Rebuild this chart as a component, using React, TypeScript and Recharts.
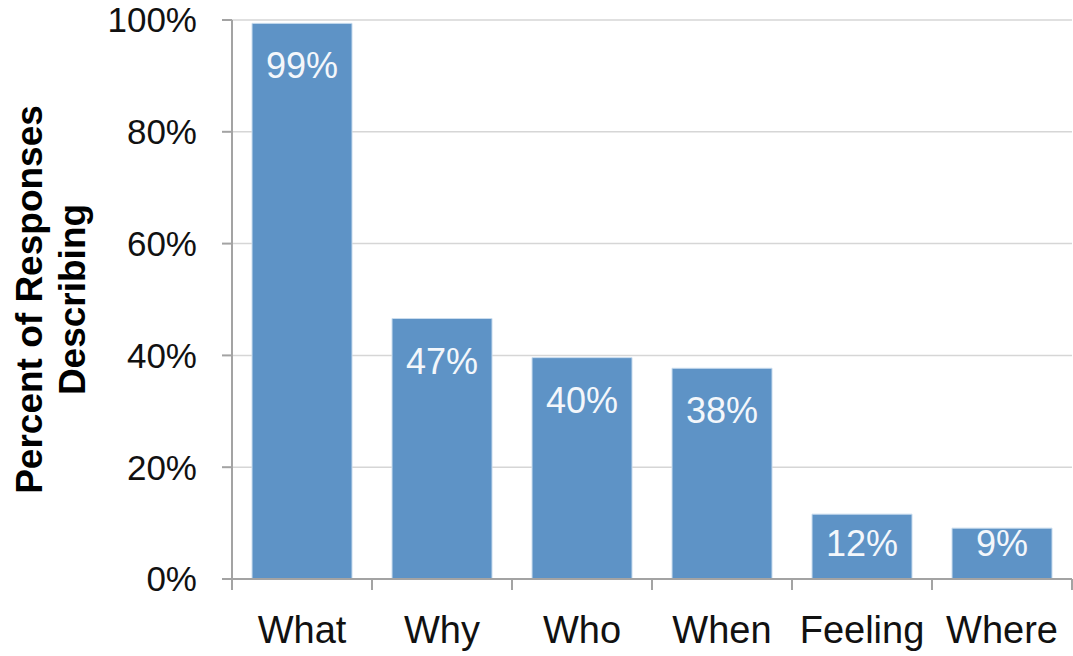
import { BarChart, Bar, XAxis, YAxis, CartesianGrid, LabelList } from "recharts";

const categories = ["What", "Why", "Who", "When", "Feeling", "Where"];
const percents = [99.4, 46.6, 39.6, 37.7, 11.6, 9.1];
const yTicks = [0, 20, 40, 60, 80, 100];

const data = categories.map((name, i) => ({ name, value: percents[i] }));

const FONT = "'Liberation Sans', Arial, Helvetica, sans-serif";
const AXIS = "#a3a3a3";

function XTick(props: any) {
  const { x, y, payload, index, visibleTicksCount } = props;
  const half = payload && payload.offset ? payload.offset : 70;
  const last = index === visibleTicksCount - 1;
  return (
    <g>
      <line x1={x - half} x2={x - half} y1={y} y2={y + 11} stroke={AXIS} strokeWidth={2} />
      {last && <line x1={x + half} x2={x + half} y1={y} y2={y + 11} stroke={AXIS} strokeWidth={2} />}
      <text x={x} y={y + 64} textAnchor="middle" fontSize={38} fill="#111" fontFamily={FONT}>
        {payload.value}
      </text>
    </g>
  );
}

function YLabel(props: any) {
  const vb = props.viewBox || { x: 0, y: 20, height: 559 };
  const cy = vb.y + vb.height / 2;
  return (
    <g fontFamily={FONT} fontWeight="bold" fontSize={37} fill="#000">
      <text transform={`translate(42, ${cy}) rotate(-90)`} textAnchor="middle">
        Percent of Responses
      </text>
      <text transform={`translate(85, ${cy}) rotate(-90)`} textAnchor="middle">
        Describing
      </text>
    </g>
  );
}

// value label sits 29px under the bar top, but never lower than 49px above the base
function BarValue(props: any) {
  const { x, y, width, height, value } = props;
  const top = Math.min(y + 29, y + height - 49);
  return (
    <text
      x={x + width / 2}
      y={top + 26}
      textAnchor="middle"
      fontSize={36}
      fill="#f4f7fb"
      fontFamily={FONT}
    >
      {`${Math.round(Number(value))}%`}
    </text>
  );
}

export default function App() {
  return (
    <div style={{ position: "absolute", left: 0, top: 0, background: "#fff" }}>
      <BarChart
        width={1073}
        height={656}
        data={data}
        margin={{ top: 20, right: 1, left: 0, bottom: 0 }}
        barCategoryGap="14.3%"
      >
        <CartesianGrid vertical={false} stroke="#d6d6d6" strokeWidth={1.5} />
        <XAxis
          dataKey="name"
          height={77}
          axisLine={{ stroke: AXIS, strokeWidth: 2 }}
          tickLine={false}
          tickSize={0}
          tickMargin={0}
          interval={0}
          tick={<XTick />}
        />
        <YAxis
          width={232}
          domain={[0, 100]}
          ticks={yTicks}
          tickFormatter={(v: number) => `${v}%`}
          axisLine={{ stroke: AXIS, strokeWidth: 2 }}
          tickLine={{ stroke: AXIS, strokeWidth: 2 }}
          tickSize={10}
          tickMargin={25}
          tick={{ fontSize: 35, fill: "#111", fontFamily: FONT }}
          label={<YLabel />}
        />
        <Bar dataKey="value" fill="#5e93c6" stroke="#c9dcee" strokeWidth={1} isAnimationActive={false}>
          <LabelList dataKey="value" content={<BarValue />} />
        </Bar>
      </BarChart>
    </div>
  );
}
